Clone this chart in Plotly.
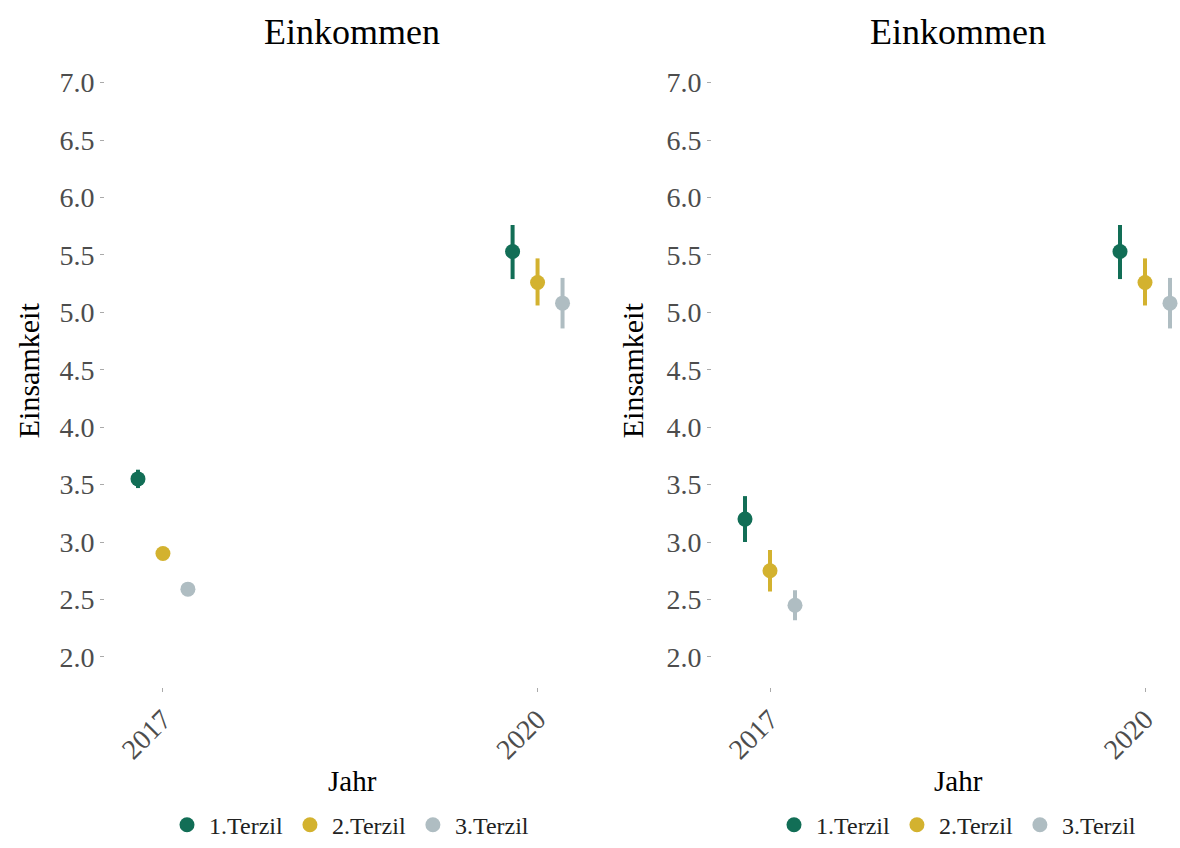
import plotly.graph_objects as go

# ---- data ----
years = [2017, 2020]
groups = ["1.Terzil", "2.Terzil", "3.Terzil"]
panel_titles = ["Einkommen", "Einkommen"]

# left panel: means, lower, upper
left_t1 = [3.55, 5.53]
left_t1_lo = [3.47, 5.29]
left_t1_hi = [3.63, 5.76]
left_t2 = [2.90, 5.26]
left_t2_lo = [2.87, 5.06]
left_t2_hi = [2.93, 5.47]
left_t3 = [2.59, 5.08]
left_t3_lo = [2.57, 4.86]
left_t3_hi = [2.61, 5.30]

# right panel
right_t1 = [3.20, 5.53]
right_t1_lo = [3.00, 5.29]
right_t1_hi = [3.40, 5.76]
right_t2 = [2.75, 5.26]
right_t2_lo = [2.57, 5.06]
right_t2_hi = [2.93, 5.47]
right_t3 = [2.45, 5.08]
right_t3_lo = [2.32, 4.86]
right_t3_hi = [2.58, 5.30]

y_ticks = [2.0, 2.5, 3.0, 3.5, 4.0, 4.5, 5.0, 5.5, 6.0, 6.5, 7.0]

colors = ["#126E56", "#D3B22F", "#AFBDC2"]
dodge = [-0.2, 0.0, 0.2]
FONT = "Liberation Serif, Times New Roman, serif"
W, H = 1180, 848

panels = [
    [(left_t1, left_t1_lo, left_t1_hi), (left_t2, left_t2_lo, left_t2_hi), (left_t3, left_t3_lo, left_t3_hi)],
    [(right_t1, right_t1_lo, right_t1_hi), (right_t2, right_t2_lo, right_t2_hi), (right_t3, right_t3_lo, right_t3_hi)],
]

fig = go.Figure()
for p, panel in enumerate(panels):
    xa = "x" if p == 0 else "x2"
    ya = "y" if p == 0 else "y2"
    lg = "legend" if p == 0 else "legend2"
    for g, (m, lo, hi) in enumerate(panel):
        fig.add_trace(go.Scatter(
            x=[yr + dodge[g] for yr in years], y=m,
            mode="markers", name=groups[g],
            marker=dict(color=colors[g], size=15),
            error_y=dict(type="data", symmetric=False,
                         array=[h - v for h, v in zip(hi, m)],
                         arrayminus=[v - l for v, l in zip(m, lo)],
                         color=colors[g], thickness=4, width=0),
            xaxis=xa, yaxis=ya, legend=lg, showlegend=True,
        ))

ydom = [(H - 690) / H, (H - 60) / H]
axis_common = dict(showgrid=False, zeroline=False, showline=False,
                   ticks="outside", ticklen=4, tickwidth=1, tickcolor="#aaaaaa",
                   tickfont=dict(family=FONT, size=28, color="#4d4d4d"))

fig.update_layout(
    width=W, height=H, margin=dict(l=0, r=0, t=0, b=0),
    paper_bgcolor="white", plot_bgcolor="white",
    xaxis=dict(domain=[105 / W, 600 / W], range=[2016.536, 2020.5], tickvals=years,
               ticktext=[str(y) for y in years], tickangle=-45, anchor="y", **axis_common),
    yaxis=dict(domain=ydom, range=[1.74, 7.2], tickvals=y_ticks,
               ticktext=[f"{v:.1f}" for v in y_ticks], anchor="x", **axis_common),
    xaxis2=dict(domain=[712 / W, 1.0], range=[2016.536, 2020.28], tickvals=years,
                ticktext=[str(y) for y in years], tickangle=-45, anchor="y2", **axis_common),
    yaxis2=dict(domain=ydom, range=[1.74, 7.2], tickvals=y_ticks,
                ticktext=[f"{v:.1f}" for v in y_ticks], anchor="x2", **axis_common),
    legend=dict(orientation="h", x=165 / W, xanchor="left", y=(H - 829) / H, yanchor="middle",
                font=dict(family=FONT, size=24, color="#222"), itemwidth=34,
                bgcolor="rgba(0,0,0,0)"),
    legend2=dict(orientation="h", x=772 / W, xanchor="left", y=(H - 829) / H, yanchor="middle",
                 font=dict(family=FONT, size=24, color="#222"), itemwidth=34,
                 bgcolor="rgba(0,0,0,0)"),
)

annots = []
for cx, title in zip([352, 958], panel_titles):
    annots.append(dict(text=title, x=cx / W, y=(H - 32) / H, xref="paper", yref="paper",
                       showarrow=False, xanchor="center", yanchor="middle",
                       font=dict(family=FONT, size=36, color="black")))
    annots.append(dict(text="Jahr", x=cx / W, y=(H - 785) / H, xref="paper", yref="paper",
                       showarrow=False, xanchor="center", yanchor="middle",
                       font=dict(family=FONT, size=29, color="black")))
for cx in [28, 632]:
    annots.append(dict(text="Einsamkeit", x=cx / W, y=(H - 372) / H, xref="paper", yref="paper",
                       showarrow=False, xanchor="center", yanchor="middle", textangle=-90,
                       font=dict(family=FONT, size=30, color="black")))
fig.update_layout(annotations=annots)

fig.write_html("out.html")
